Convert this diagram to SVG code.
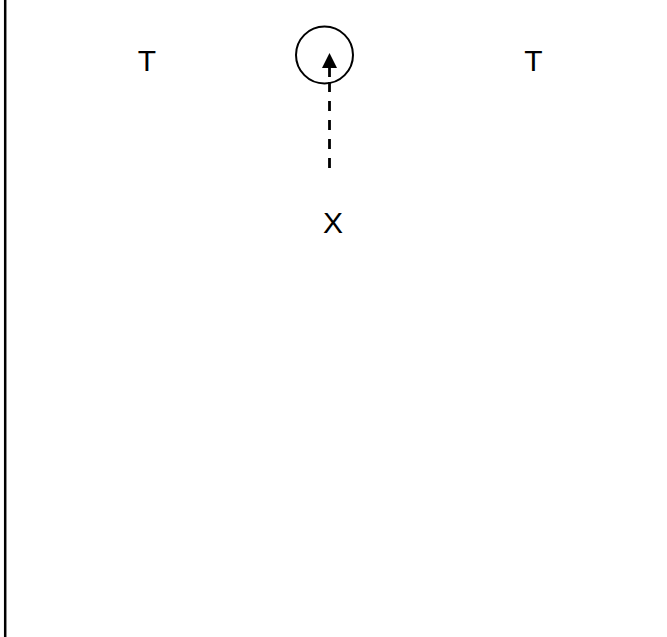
<svg xmlns="http://www.w3.org/2000/svg" width="667" height="637" viewBox="0 0 667 637">
<style>
.lbl{font-family:"Liberation Sans",Arial,sans-serif;font-size:30px;fill:#000;text-anchor:middle}
.edge{stroke:#000;stroke-width:2.8;fill:none}
</style>
<defs>
<marker id="ah" markerWidth="15" markerHeight="15" refX="0" refY="7.5" orient="auto" markerUnits="userSpaceOnUse" viewBox="0 0 15 15">
<path d="M0,0 L15,7.5 L0,15 Z" fill="#000"/>
</marker>
</defs>
<rect width="667" height="637" fill="#fff"/>
<line x1="5.2" y1="0" x2="5.2" y2="637" stroke="#000" stroke-width="2.5"/>
<g id="node-circle">
<circle cx="324.5" cy="55" r="28.5" fill="none" stroke="#000" stroke-width="2"/>
</g>
<g id="node-t1"><text class="lbl" x="147" y="71">T</text></g>
<g id="node-t2"><text class="lbl" x="533.5" y="71">T</text></g>
<g id="node-x"><text class="lbl" x="333" y="233">X</text></g>
<g id="connectors">
<line class="edge" x1="329.5" y1="168" x2="329.5" y2="77" stroke-dasharray="10 9"/>
<line class="edge" x1="329.5" y1="77" x2="329.5" y2="68" marker-end="url(#ah)"/>
</g>
</svg>
